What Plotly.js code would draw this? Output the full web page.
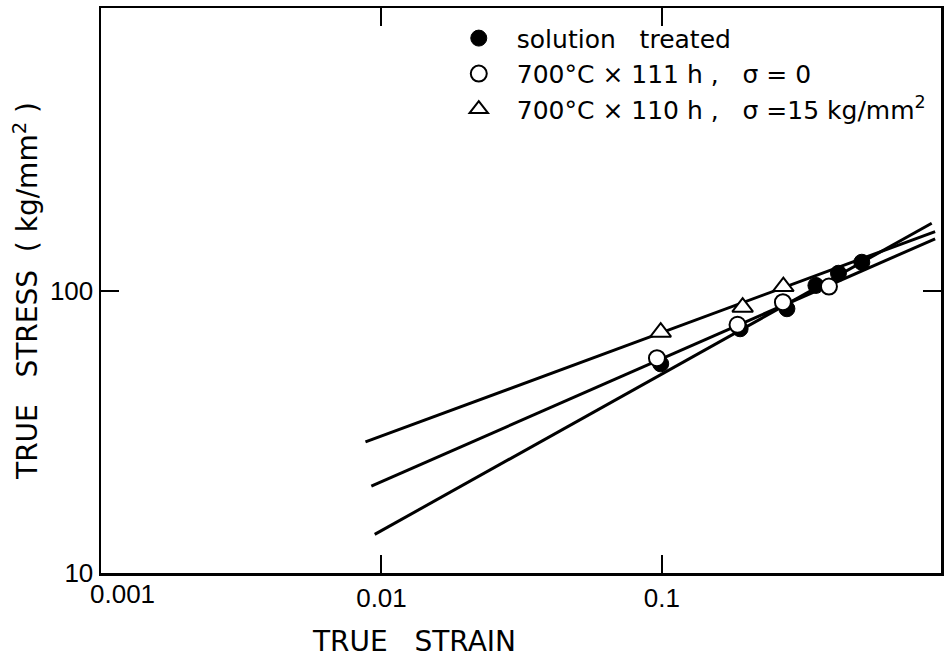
<!DOCTYPE html>
<html>
<head>
<meta charset="utf-8">
<script src="https://cdn.plot.ly/plotly-3.0.1.min.js"></script>
<style>html,body{margin:0;padding:0;background:#fff;}#chart{width:948px;height:667px;}</style>
</head>
<body>
<div id="chart"></div>
<script>
// ---- data ----
const seriesNames = [
  'solution   treated',
  '700°C × 111 h ,   σ = 0',
  '700°C × 110 h ,   σ =15 kg/mm<sup>2</sup>'
];
// solution treated (filled circles)
const solStrain = [0.099, 0.190, 0.279, 0.354, 0.426, 0.516];
const solStress = [55.0, 73.2, 86.2, 104.2, 115.1, 125.9];
// 700°C x 111 h, sigma = 0 (open circles)
const agedStrain = [0.096, 0.186, 0.270, 0.394];
const agedStress = [57.6, 75.6, 90.9, 103.3];
// 700°C x 110 h, sigma = 15 kg/mm2 (triangles)
const stressedStrain = [0.099, 0.194, 0.271];
const stressedStress = [71.2, 87.3, 103.3];
// fitted straight lines (end points)
const solLineStrain = [0.00946, 0.916];
const solLineStress = [13.7, 173];
const agedLineStrain = [0.0092, 0.942];
const agedLineStress = [20.3, 152.4];
const stressedLineStrain = [0.00877, 0.942];
const stressedLineStress = [29.1, 161.7];
// axis ticks
const xTickVals = [0.001, 0.01, 0.1];
const xTickLabels = ['0.001', '0.01', '0.1'];
const yTickVals = [10, 100];
const yTickLabels = ['10', '100'];
const xTitle = 'TRUE   STRAIN';
const yTitle = 'TRUE   STRESS  ( kg/mm<sup>2</sup> )';

const TICKFONT = '"Liberation Sans", Arial, sans-serif';
const FONT = '"DejaVu Sans", "Liberation Sans", sans-serif';
const lineStyle = {color: '#000', width: 3};

const traces = [
  {x: solLineStrain, y: solLineStress, mode: 'lines', line: lineStyle, showlegend: false, hoverinfo: 'skip'},
  {x: agedLineStrain, y: agedLineStress, mode: 'lines', line: lineStyle, showlegend: false, hoverinfo: 'skip'},
  {x: stressedLineStrain, y: stressedLineStress, mode: 'lines', line: lineStyle, showlegend: false, hoverinfo: 'skip'},
  {x: solStrain, y: solStress, mode: 'markers', name: seriesNames[0],
   marker: {symbol: 'circle', size: 16, color: '#000', line: {color: '#000', width: 1}}},
  {x: agedStrain, y: agedStress, mode: 'markers', name: seriesNames[1],
   marker: {symbol: 'circle', size: 16, color: '#fff', line: {color: '#000', width: 2}}},
  {x: stressedStrain, y: stressedStress, mode: 'markers', name: seriesNames[2],
   marker: {symbol: 'triangle-up', size: 18, color: '#fff', line: {color: '#000', width: 2}}}
];

const axisCommon = {
  type: 'log', showgrid: false, zeroline: false,
  showline: true, linecolor: '#000', linewidth: 2.5, mirror: 'ticks',
  ticks: 'inside', ticklen: 18, tickwidth: 2, tickcolor: '#000',
  tickfont: {family: TICKFONT, size: 26, color: '#000'}
};

const layout = {
  width: 948, height: 667,
  margin: {l: 101, r: 7, t: 8, b: 94},
  paper_bgcolor: '#fff', plot_bgcolor: '#fff',
  font: {family: FONT, color: '#000'},
  xaxis: Object.assign({}, axisCommon, {
    range: [-3, -0.005], tickmode: 'array', tickvals: xTickVals.slice(1),
    ticktext: xTickLabels.slice(1)
  }),
  yaxis: Object.assign({}, axisCommon, {
    range: [1, 3], tickmode: 'array', tickvals: yTickVals, ticktext: yTickLabels,
    title: {text: yTitle, font: {family: FONT, size: 28, color: '#000'}, standoff: 4}
  }),
  showlegend: true,
  legend: {
    x: 0.4045, y: 0.987, xanchor: 'left', yanchor: 'top',
    bgcolor: 'rgba(0,0,0,0)', borderwidth: 0,
    font: {family: FONT, size: 25, color: '#000'},
    itemwidth: 66, tracegroupgap: 0
  },
  annotations: [
    {x: Math.log10(xTickVals[0]), y: 0, xref: 'x', yref: 'paper', text: xTickLabels[0],
     showarrow: false, xanchor: 'center', yanchor: 'top', xshift: 21, yshift: -4,
     font: {family: TICKFONT, size: 26, color: '#000'}},
    {x: 0.373, y: -0.088, xref: 'paper', yref: 'paper', text: xTitle, showarrow: false,
     xanchor: 'center', yanchor: 'top', font: {family: FONT, size: 28, color: '#000'}}
  ]
};

Plotly.newPlot('chart', traces, layout, {staticPlot: true, displayModeBar: false});
</script>
</body>
</html>
